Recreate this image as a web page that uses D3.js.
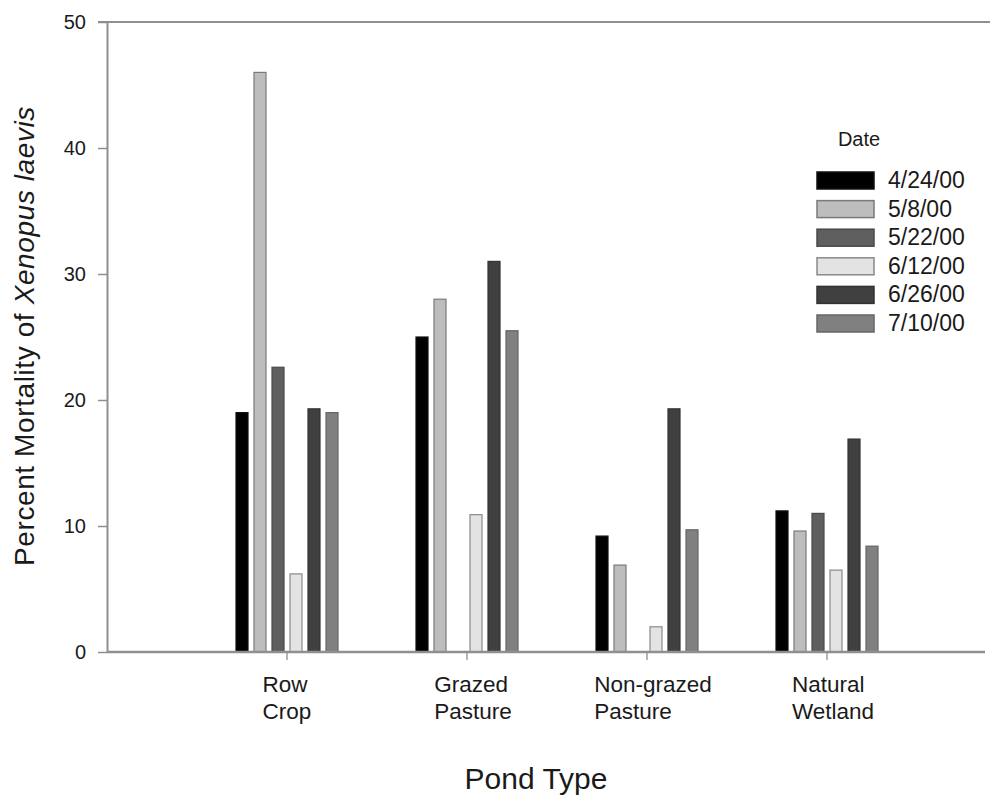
<!DOCTYPE html>
<html>
<head>
<meta charset="utf-8">
<script src="https://cdn.jsdelivr.net/npm/d3@7"></script>
<style>
  html, body { margin: 0; padding: 0; background: #fff; }
  svg { display: block; }
  text { font-family: "Liberation Sans", Arial, Helvetica, sans-serif; fill: #1a1a1a; }
</style>
</head>
<body>
<svg id="chart" width="990" height="796"></svg>
<script>
// ---- data ----
const categories = [["Row", "Crop"], ["Grazed", "Pasture"], ["Non-grazed", "Pasture"], ["Natural", "Wetland"]];
const categoryKeys = ["Row Crop", "Grazed Pasture", "Non-grazed Pasture", "Natural Wetland"];
const dates = ["4/24/00", "5/8/00", "5/22/00", "6/12/00", "6/26/00", "7/10/00"];
const mortality_4_24 = [19.0, 25.0, 9.2, 11.2];
const mortality_5_8  = [46.0, 28.0, 6.9, 9.6];
const mortality_5_22 = [22.6, null, null, 11.0];
const mortality_6_12 = [6.2, 10.9, 2.0, 6.5];
const mortality_6_26 = [19.3, 31.0, 19.3, 16.9];
const mortality_7_10 = [19.0, 25.5, 9.7, 8.4];
const seriesValues = [mortality_4_24, mortality_5_8, mortality_5_22, mortality_6_12, mortality_6_26, mortality_7_10];
const yTicks = [0, 10, 20, 30, 40, 50];
const fills = ["#000000", "#bdbdbd", "#5f5f5f", "#e3e3e3", "#404040", "#808080"];
const strokes = ["#111111", "#7a7a7a", "#4a4a4a", "#8a8a8a", "#333333", "#666666"];

// ---- layout ----
const svg = d3.select("#chart");
const plot = { left: 107, right: 985, top: 22, bottom: 652 };
const axisColor = "#8f8f8f";

const y = d3.scaleLinear().domain([0, 50]).range([plot.bottom, plot.top]);
const x = d3.scaleBand().domain(categoryKeys).range([197, 917]).paddingInner(0).paddingOuter(0);
const xs = d3.scaleBand().domain(dates).range([-54, 54]).paddingInner(1 / 3).paddingOuter(1 / 6);

// top frame line
svg.append("line")
  .attr("x1", plot.left - 9).attr("x2", 990)
  .attr("y1", y(50)).attr("y2", y(50))
  .attr("stroke", axisColor).attr("stroke-width", 2);

// bars
const rows = [];
categoryKeys.forEach((c, ci) => {
  dates.forEach((d, si) => {
    const v = seriesValues[si][ci];
    if (v != null) rows.push({ c, d, si, v });
  });
});
svg.append("g").selectAll("rect").data(rows).join("rect")
  .attr("x", r => x(r.c) + x.bandwidth() / 2 + xs(r.d))
  .attr("width", xs.bandwidth())
  .attr("y", r => y(r.v))
  .attr("height", r => y(0) - y(r.v))
  .attr("fill", r => fills[r.si])
  .attr("stroke", r => strokes[r.si])
  .attr("stroke-width", 1.2);

// y axis
const yAxis = svg.append("g")
  .attr("transform", `translate(${plot.left},0)`)
  .call(d3.axisLeft(y).tickValues(yTicks).tickSize(9).tickPadding(12).tickSizeOuter(0));
yAxis.select(".domain").attr("stroke", axisColor).attr("stroke-width", 2);
yAxis.selectAll(".tick line").attr("stroke", axisColor).attr("stroke-width", 1.5);
yAxis.selectAll(".tick text").style("font-size", "20px").style("font-family", "'Liberation Sans', Arial, sans-serif").attr("fill", "#1a1a1a");

// x axis
const xAxisG = svg.append("g").attr("transform", `translate(0,${plot.bottom})`);
xAxisG.append("line")
  .attr("x1", plot.left).attr("x2", plot.right)
  .attr("stroke", axisColor).attr("stroke-width", 2.5);
const xAxis = xAxisG.append("g")
  .call(d3.axisBottom(x).tickSize(8).tickSizeOuter(0).tickFormat(""));
xAxis.select(".domain").remove();
xAxis.selectAll(".tick line").attr("stroke", axisColor).attr("stroke-width", 1.3);

// category labels (two lines, left-aligned block centered near tick)
categoryKeys.forEach((c, i) => {
  const t = svg.append("text")
    .attr("y", plot.bottom + 40)
    .style("font-size", "22.5px");
  categories[i].forEach((line, li) => {
    t.append("tspan").attr("x", 0).attr("dy", li === 0 ? 0 : 26.5).text(line);
  });
  const w = t.node().getBBox().width;
  const shift = i === 0 ? 0 : 6;
  const x0 = x(c) + x.bandwidth() / 2 - w / 2 + shift;
  t.attr("x", x0);
  t.selectAll("tspan").attr("x", x0);
});

// axis titles
svg.append("text")
  .attr("x", 536).attr("y", 789)
  .attr("text-anchor", "middle")
  .style("font-size", "30px")
  .text("Pond Type");

const yt = svg.append("text")
  .attr("transform", `translate(34,336) rotate(-90)`)
  .attr("text-anchor", "middle")
  .style("font-size", "28px")
  .style("letter-spacing", "0.6px");
yt.append("tspan").text("Percent Mortality of ");
yt.append("tspan").style("font-style", "italic").text("Xenopus laevis");

// legend
const legend = svg.append("g").attr("transform", "translate(817,172)");
legend.append("text")
  .attr("x", 42).attr("y", -26)
  .attr("text-anchor", "middle")
  .style("font-size", "20px")
  .text("Date");
const li = legend.selectAll("g.item").data(dates).join("g")
  .attr("class", "item")
  .attr("transform", (d, i) => `translate(0,${i * 28.6})`);
li.append("rect")
  .attr("width", 57).attr("height", 17)
  .attr("fill", (d, i) => fills[i])
  .attr("stroke", (d, i) => strokes[i])
  .attr("stroke-width", 1.5);
li.append("text")
  .attr("x", 71).attr("y", 16)
  .style("font-size", "23px")
  .text(d => d);
</script>
</body>
</html>
